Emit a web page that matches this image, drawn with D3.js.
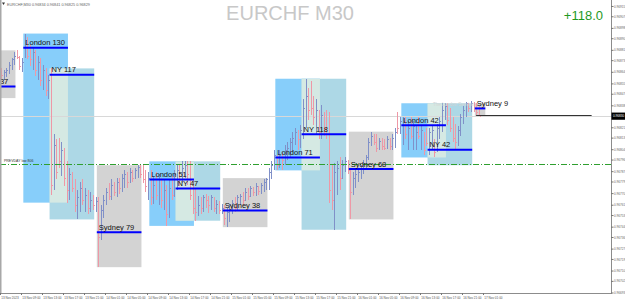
<!DOCTYPE html>
<html>
<head>
<meta charset="utf-8">
<script src="https://cdn.jsdelivr.net/npm/d3@7"></script>
<style>
  html, body { margin: 0; padding: 0; background: #fff; overflow: hidden; }
  text { font-family: "Liberation Sans", Arial, sans-serif; }
</style>
</head>
<body>
<svg id="chart" width="625" height="301"></svg>
<script>
// first bar time, M30 bars follow every 30 minutes
const firstBar = "2023-11-13 05:00";

// [open, high, low, close]
const bars = [
  [0.96864,0.96867,0.96858,0.96862],[0.96861,0.96866,0.96858,0.96864],[0.96864,0.96867,0.96860,0.96866],[0.96866,0.96872,0.96863,0.96870],
  [0.96870,0.96875,0.96866,0.96874],[0.96874,0.96880,0.96870,0.96877],[0.96877,0.96881,0.96874,0.96876],[0.96876,0.96877,0.96866,0.96869],
  [0.96869,0.96875,0.96864,0.96872],[0.96877,0.96894,0.96875,0.96889],[0.96889,0.96891,0.96874,0.96877],[0.96877,0.96885,0.96869,0.96874],
  [0.96874,0.96883,0.96866,0.96880],[0.96880,0.96881,0.96861,0.96866],[0.96866,0.96877,0.96858,0.96872],[0.96872,0.96875,0.96853,0.96858],
  [0.96858,0.96870,0.96850,0.96866],[0.96866,0.96867,0.96846,0.96850],[0.96850,0.96862,0.96843,0.96858],[0.96860,0.96867,0.96769,0.96777],
  [0.96777,0.96816,0.96773,0.96808],[0.96808,0.96812,0.96781,0.96787],[0.96810,0.96813,0.96790,0.96795],[0.96795,0.96810,0.96784,0.96804],
  [0.96804,0.96805,0.96776,0.96782],[0.96782,0.96795,0.96763,0.96773],[0.96773,0.96790,0.96765,0.96785],[0.96785,0.96787,0.96771,0.96774],
  [0.96774,0.96781,0.96756,0.96761],[0.96761,0.96773,0.96750,0.96767],[0.96767,0.96779,0.96756,0.96774],[0.96774,0.96781,0.96761,0.96765],
  [0.96765,0.96774,0.96756,0.96769],[0.96769,0.96773,0.96754,0.96759],[0.96759,0.96771,0.96756,0.96765],[0.96765,0.96769,0.96757,0.96761],
  [0.96761,0.96767,0.96756,0.96764],[0.96764,0.96767,0.96713,0.96736],[0.96736,0.96761,0.96734,0.96757],[0.96757,0.96769,0.96751,0.96765],
  [0.96765,0.96774,0.96761,0.96771],[0.96771,0.96778,0.96765,0.96768],[0.96768,0.96781,0.96765,0.96777],[0.96777,0.96779,0.96768,0.96771],
  [0.96771,0.96782,0.96767,0.96779],[0.96779,0.96782,0.96770,0.96774],[0.96774,0.96785,0.96771,0.96782],[0.96782,0.96788,0.96774,0.96785],
  [0.96785,0.96787,0.96774,0.96779],[0.96779,0.96790,0.96778,0.96787],[0.96787,0.96788,0.96779,0.96782],[0.96782,0.96790,0.96781,0.96788],
  [0.96788,0.96792,0.96782,0.96791],[0.96791,0.96792,0.96782,0.96785],[0.96785,0.96792,0.96778,0.96781],[0.96781,0.96788,0.96771,0.96776],
  [0.96776,0.96787,0.96765,0.96782],[0.96782,0.96788,0.96761,0.96767],[0.96767,0.96784,0.96762,0.96777],[0.96777,0.96787,0.96765,0.96769],
  [0.96769,0.96785,0.96761,0.96781],[0.96781,0.96782,0.96759,0.96765],[0.96765,0.96781,0.96757,0.96773],[0.96773,0.96777,0.96745,0.96754],
  [0.96754,0.96781,0.96751,0.96774],[0.96774,0.96784,0.96765,0.96769],[0.96769,0.96788,0.96767,0.96785],[0.96785,0.96792,0.96773,0.96788],
  [0.96788,0.96793,0.96776,0.96781],[0.96781,0.96795,0.96778,0.96790],[0.96790,0.96795,0.96782,0.96792],[0.96792,0.96795,0.96777,0.96785],
  [0.96788,0.96795,0.96765,0.96769],[0.96769,0.96781,0.96754,0.96759],[0.96759,0.96774,0.96749,0.96756],[0.96756,0.96768,0.96753,0.96761],
  [0.96761,0.96767,0.96754,0.96759],[0.96759,0.96769,0.96756,0.96767],[0.96767,0.96770,0.96759,0.96765],[0.96765,0.96768,0.96755,0.96761],
  [0.96761,0.96769,0.96757,0.96767],[0.96767,0.96767,0.96756,0.96759],[0.96759,0.96765,0.96754,0.96762],[0.96762,0.96764,0.96754,0.96757],
  [0.96757,0.96762,0.96754,0.96759],[0.96759,0.96761,0.96746,0.96751],[0.96751,0.96759,0.96744,0.96756],[0.96756,0.96762,0.96748,0.96761],
  [0.96761,0.96765,0.96754,0.96763],[0.96763,0.96767,0.96756,0.96759],[0.96759,0.96769,0.96757,0.96767],[0.96767,0.96770,0.96761,0.96768],
  [0.96768,0.96771,0.96761,0.96765],[0.96765,0.96774,0.96764,0.96771],[0.96771,0.96774,0.96765,0.96768],[0.96768,0.96776,0.96767,0.96774],
  [0.96774,0.96775,0.96768,0.96771],[0.96771,0.96778,0.96768,0.96776],[0.96776,0.96776,0.96769,0.96772],[0.96772,0.96778,0.96770,0.96777],
  [0.96777,0.96781,0.96771,0.96779],[0.96779,0.96782,0.96773,0.96781],[0.96781,0.96790,0.96773,0.96787],[0.96787,0.96795,0.96781,0.96792],
  [0.96792,0.96804,0.96788,0.96800],[0.96798,0.96800,0.96788,0.96792],[0.96792,0.96804,0.96790,0.96800],[0.96800,0.96802,0.96788,0.96796],
  [0.96796,0.96808,0.96792,0.96804],[0.96804,0.96810,0.96796,0.96805],[0.96805,0.96813,0.96798,0.96810],[0.96810,0.96818,0.96802,0.96813],
  [0.96813,0.96821,0.96808,0.96818],[0.96818,0.96819,0.96804,0.96812],[0.96812,0.96823,0.96805,0.96819],[0.96819,0.96843,0.96812,0.96836],
  [0.96836,0.96859,0.96821,0.96846],[0.96846,0.96852,0.96827,0.96835],[0.96850,0.96857,0.96831,0.96836],[0.96836,0.96846,0.96823,0.96829],
  [0.96829,0.96843,0.96816,0.96835],[0.96835,0.96835,0.96812,0.96818],[0.96818,0.96839,0.96812,0.96831],[0.96831,0.96833,0.96815,0.96821],
  [0.96821,0.96835,0.96812,0.96816],[0.96823,0.96833,0.96763,0.96773],[0.96773,0.96792,0.96757,0.96765],[0.96765,0.96794,0.96742,0.96787],
  [0.96777,0.96795,0.96769,0.96790],[0.96790,0.96798,0.96773,0.96782],[0.96782,0.96796,0.96782,0.96792],[0.96792,0.96798,0.96787,0.96795],
  [0.96795,0.96796,0.96785,0.96788],[0.96788,0.96790,0.96750,0.96771],[0.96771,0.96787,0.96769,0.96782],[0.96782,0.96788,0.96774,0.96785],
  [0.96785,0.96790,0.96779,0.96787],[0.96787,0.96792,0.96781,0.96790],[0.96790,0.96796,0.96785,0.96794],[0.96794,0.96800,0.96788,0.96798],
  [0.96798,0.96813,0.96796,0.96810],[0.96810,0.96818,0.96807,0.96815],[0.96815,0.96816,0.96808,0.96810],[0.96810,0.96816,0.96802,0.96805],
  [0.96805,0.96813,0.96804,0.96811],[0.96811,0.96813,0.96804,0.96807],[0.96807,0.96812,0.96804,0.96805],[0.96805,0.96815,0.96805,0.96812],
  [0.96812,0.96813,0.96804,0.96807],[0.96807,0.96816,0.96804,0.96813],[0.96808,0.96821,0.96805,0.96818],[0.96829,0.96833,0.96816,0.96821],
  [0.96821,0.96829,0.96816,0.96826],[0.96812,0.96829,0.96808,0.96826],[0.96826,0.96829,0.96812,0.96816],[0.96816,0.96826,0.96804,0.96821],
  [0.96821,0.96829,0.96812,0.96815],[0.96815,0.96826,0.96804,0.96822],[0.96808,0.96822,0.96804,0.96818],[0.96818,0.96829,0.96812,0.96815],
  [0.96815,0.96822,0.96804,0.96819],[0.96817,0.96818,0.96800,0.96804],[0.96816,0.96821,0.96807,0.96809],[0.96809,0.96821,0.96800,0.96818],
  [0.96808,0.96822,0.96804,0.96819],[0.96810,0.96812,0.96798,0.96802],[0.96804,0.96824,0.96802,0.96821],[0.96821,0.96829,0.96812,0.96826],
  [0.96824,0.96840,0.96818,0.96835],[0.96835,0.96840,0.96827,0.96838],[0.96838,0.96840,0.96823,0.96827],[0.96827,0.96836,0.96818,0.96821],
  [0.96821,0.96829,0.96810,0.96813],[0.96813,0.96824,0.96804,0.96810],[0.96810,0.96822,0.96807,0.96819],[0.96819,0.96832,0.96815,0.96829],
  [0.96829,0.96838,0.96824,0.96835],[0.96835,0.96841,0.96829,0.96840],[0.96840,0.96840,0.96833,0.96836],[0.96836,0.96842,0.96833,0.96840],
  [0.96840,0.96841,0.96833,0.96836],[0.96836,0.96840,0.96831,0.96833],[0.96833,0.96838,0.96830,0.96830]
];

// session boxes: high/low of the session and the level line drawn inside it
const sessions = [
  {label: "Sydney 37",  kind: "sydney", start: "2023-11-12 23:30", end: "2023-11-13 08:00", high: 0.96881, low: 0.96844, level: 0.96853},
  {label: "London 130", kind: "london", start: "2023-11-13 09:30", end: "2023-11-13 18:00", high: 0.96894, low: 0.96763, level: 0.96883},
  {label: "NY 117",     kind: "ny",     start: "2023-11-13 14:30", end: "2023-11-13 23:00", high: 0.96867, low: 0.96750, level: 0.96862},
  {label: "Sydney 79",  kind: "sydney", start: "2023-11-13 23:30", end: "2023-11-14 08:00", high: 0.96792, low: 0.96713, level: 0.96740},
  {label: "London 51",  kind: "london", start: "2023-11-14 09:30", end: "2023-11-14 18:00", high: 0.96795, low: 0.96745, level: 0.96781},
  {label: "NY 47",      kind: "ny",     start: "2023-11-14 14:30", end: "2023-11-14 23:00", high: 0.96795, low: 0.96749, level: 0.96774},
  {label: "Sydney 38",  kind: "sydney", start: "2023-11-14 23:30", end: "2023-11-15 08:00", high: 0.96782, low: 0.96744, level: 0.96757},
  {label: "London 71",  kind: "london", start: "2023-11-15 09:30", end: "2023-11-15 18:00", high: 0.96859, low: 0.96788, level: 0.96798},
  {label: "NY 118",     kind: "ny",     start: "2023-11-15 14:30", end: "2023-11-15 23:00", high: 0.96859, low: 0.96742, level: 0.96816},
  {label: "Sydney 68",  kind: "sydney", start: "2023-11-15 23:30", end: "2023-11-16 08:00", high: 0.96818, low: 0.96750, level: 0.96789},
  {label: "London 42",  kind: "london", start: "2023-11-16 09:30", end: "2023-11-16 18:00", high: 0.96840, low: 0.96798, level: 0.96823},
  {label: "NY 42",      kind: "ny",     start: "2023-11-16 14:30", end: "2023-11-16 23:00", high: 0.96840, low: 0.96792, level: 0.96804},
  {label: "Sydney 9",   kind: "sydney", start: "2023-11-16 23:30", end: "2023-11-17 01:30", high: 0.96840, low: 0.96830, level: 0.96836}
];

const currentPrice = 0.96830;
const levelPrice = 0.96793;
const openLine = {start: "2023-11-16 23:30", end: "2023-11-17 21:30", price: 0.96831};

const priceTicks = [0.96915,0.96907,0.96898,0.96890,0.96881,0.96873,0.96864,0.96855,0.96847,0.96838,0.96830,
  0.96821,0.96813,0.96804,0.96796,0.96787,0.96779,0.96770,0.96761,0.96753,0.96744,0.96736,0.96727,0.96719,
  0.96710,0.96702,0.96693];

const timeTicks = ["2023-11-13 05:00","2023-11-13 09:00","2023-11-13 13:00","2023-11-13 17:00","2023-11-13 21:00",
  "2023-11-14 01:00","2023-11-14 05:00","2023-11-14 09:00","2023-11-14 13:00","2023-11-14 17:00","2023-11-14 21:00",
  "2023-11-15 01:00","2023-11-15 05:00","2023-11-15 09:00","2023-11-15 13:00","2023-11-15 17:00","2023-11-15 21:00",
  "2023-11-16 01:00","2023-11-16 05:00","2023-11-16 09:00","2023-11-16 13:00","2023-11-16 17:00","2023-11-16 21:00",
  "2023-11-17 01:00"];

const boxColors = {london: "#87cefa", ny: "#add8e6", sydney: "#d3d3d3"};

const parse = d3.timeParse("%Y-%m-%d %H:%M");
const plotRight = 611, plotBottom = 293;

const svg = d3.select("#chart");

const x = d3.scaleTime()
  .domain([parse("2023-11-13 05:00"), parse("2023-11-18 01:00")])
  .range([1, 610]);
const y = d3.scaleLinear()
  .domain([0.96693, 0.96920])
  .range([plotBottom, 0]);

const t0 = parse(firstBar);
const barTime = i => d3.timeMinute.offset(t0, 30 * i);
const half = 1.3; // boxes start half a bar before the bar centre
const bx = s => x(parse(s)) - half;

svg.append("defs").append("clipPath").attr("id", "plot")
  .append("rect").attr("x", 0).attr("y", 0).attr("width", plotRight).attr("height", plotBottom);

const plot = svg.append("g").attr("clip-path", "url(#plot)");

// session boxes
plot.append("g").selectAll("rect")
  .data(sessions)
  .join("rect")
  .attr("x", d => bx(d.start))
  .attr("y", d => y(d.high))
  .attr("width", d => bx(d.end) - bx(d.start))
  .attr("height", d => y(d.low) - y(d.high))
  .attr("fill", d => boxColors[d.kind]);

// overlapping parts are xor-ed like the terminal does
function xorColor(a, b) {
  const c1 = d3.rgb(a), c2 = d3.rgb(b);
  return d3.rgb(255 ^ c1.r ^ c2.r, 255 ^ c1.g ^ c2.g, 255 ^ c1.b ^ c2.b).formatHex();
}
const overlaps = [];
sessions.forEach((a, i) => sessions.slice(i + 1).forEach(b => {
  const s = d3.max([parse(a.start), parse(b.start)]);
  const e = d3.min([parse(a.end), parse(b.end)]);
  const hi = Math.min(a.high, b.high), lo = Math.max(a.low, b.low);
  if (s < e && lo < hi) overlaps.push({s, e, hi, lo, color: xorColor(boxColors[a.kind], boxColors[b.kind])});
}));
plot.append("g").selectAll("rect")
  .data(overlaps)
  .join("rect")
  .attr("x", d => x(d.s) - half)
  .attr("y", d => y(d.hi))
  .attr("width", d => x(d.e) - x(d.s))
  .attr("height", d => y(d.lo) - y(d.hi))
  .attr("fill", d => d.color);

// bid line
plot.append("line")
  .attr("x1", 0).attr("x2", plotRight)
  .attr("y1", Math.round(y(currentPrice)) + 0.5).attr("y2", Math.round(y(currentPrice)) + 0.5)
  .attr("stroke", "#d8d8d8");

// bars
const barG = plot.append("g").attr("shape-rendering", "crispEdges");
bars.forEach((b, i) => {
  const [o, h, l, c] = b;
  const cx = Math.round(x(barTime(i))) + 0.5;
  const col = c >= o ? "#8090c8" : "#ee98a6";
  barG.append("line").attr("x1", cx).attr("x2", cx).attr("y1", y(h)).attr("y2", y(l)).attr("stroke", col);
  barG.append("line").attr("x1", cx - 1).attr("x2", cx).attr("y1", Math.round(y(o)) + 0.5).attr("y2", Math.round(y(o)) + 0.5).attr("stroke", col);
  barG.append("line").attr("x1", cx).attr("x2", cx + 1).attr("y1", Math.round(y(c)) + 0.5).attr("y2", Math.round(y(c)) + 0.5).attr("stroke", col);
});

// dash-dot level
plot.append("line")
  .attr("x1", 0).attr("x2", plotRight)
  .attr("y1", Math.round(y(levelPrice)) + 0.5).attr("y2", Math.round(y(levelPrice)) + 0.5)
  .attr("stroke", "#2f9f2f").attr("stroke-dasharray", "6,2,1,2");
plot.append("text")
  .attr("x", 4).attr("y", y(levelPrice) - 1.5)
  .attr("font-size", 3.5).attr("fill", "#333")
  .text("PREVDAY low 806");

// session level lines and labels
plot.append("g").selectAll("line")
  .data(sessions)
  .join("line")
  .attr("x1", d => bx(d.start))
  .attr("x2", d => bx(d.end))
  .attr("y1", d => y(d.level))
  .attr("y2", d => y(d.level))
  .attr("stroke", "#0000ff").attr("stroke-width", 2);

plot.append("g").selectAll("text")
  .data(sessions)
  .join("text")
  .attr("x", d => bx(d.start) + 2)
  .attr("y", d => y(d.level) - 2.5)
  .attr("font-size", 7.5).attr("fill", "#111")
  .text(d => d.label);

plot.append("text")
  .attr("x", 433).attr("y", y(0.96838))
  .attr("font-size", 4.5).attr("fill", "#d4d4d4")
  .text("The London Session");

// open line of the running session
plot.append("line")
  .attr("x1", x(parse(openLine.start))).attr("x2", x(parse(openLine.end)))
  .attr("y1", Math.round(y(openLine.price)) + 0.5).attr("y2", Math.round(y(openLine.price)) + 0.5)
  .attr("stroke", "#333");

// frame
svg.append("line").attr("x1", 0.75).attr("x2", 0.75).attr("y1", 0).attr("y2", plotBottom)
  .attr("stroke", "#a8a8a8").attr("stroke-width", 1.5);
svg.append("line").attr("x1", plotRight + 0.5).attr("x2", plotRight + 0.5).attr("y1", 0).attr("y2", plotBottom + 1)
  .attr("stroke", "#8c8c8c");
svg.append("line").attr("x1", 0).attr("x2", plotRight + 1).attr("y1", plotBottom + 0.5).attr("y2", plotBottom + 0.5)
  .attr("stroke", "#8c8c8c");

// price axis (the tick at the bid is covered by the bid label)
const fmtP = d3.format(".5f");
const pAxis = svg.append("g").selectAll("g")
  .data(priceTicks)
  .join("g")
  .attr("transform", d => `translate(${plotRight},${y(d)})`);
pAxis.append("line").attr("x1", 0).attr("x2", 2.5).attr("stroke", "#777");
pAxis.filter(d => d !== currentPrice).append("text")
  .attr("x", 3).attr("dy", "0.35em")
  .attr("font-size", 3.1).attr("fill", "#666")
  .text(d => fmtP(d));

const cp = svg.append("g").attr("transform", `translate(${plotRight},${y(currentPrice)})`);
cp.append("rect").attr("x", 0.5).attr("y", -3.6).attr("width", 13.5).attr("height", 7.2).attr("fill", "#000");
cp.append("text").attr("x", 2).attr("dy", "0.35em").attr("font-size", 3.1).attr("fill", "#fff").text(fmtP(currentPrice));

// time axis
const fmtDay = d3.timeFormat("%d %b %Y"), fmtHour = d3.timeFormat("%d %b %H:%M");
const tAxis = svg.append("g").selectAll("g")
  .data(timeTicks)
  .join("g")
  .attr("transform", d => `translate(${Math.round(x(parse(d))) - 1},${plotBottom})`);
tAxis.append("line").attr("x1", 0.5).attr("x2", 0.5).attr("y1", 0).attr("y2", 2).attr("stroke", "#777");
tAxis.append("text")
  .attr("x", 1.2).attr("y", 5.6)
  .attr("font-size", 3.1).attr("fill", "#555")
  .text((d, i) => i === 0 ? fmtDay(parse(d)) : fmtHour(parse(d)));

// header texts
svg.append("path").attr("d", "M2,2.5 L5,2.5 L3.5,5 Z").attr("fill", "#333");
svg.append("text")
  .attr("x", 7).attr("y", 5.5)
  .attr("font-size", 3.8).attr("fill", "#666")
  .text("EURCHF,M30  0.96834 0.96841 0.96825 0.96829");

svg.append("text")
  .attr("x", 290).attr("y", 20)
  .attr("text-anchor", "middle")
  .attr("font-size", 20).attr("fill", "#c8c8c8")
  .text("EURCHF M30");

svg.append("text")
  .attr("x", 603).attr("y", 19.5)
  .attr("text-anchor", "end")
  .attr("font-size", 13).attr("fill", "#1f9a1f")
  .text("+118.0");
</script>
</body>
</html>
